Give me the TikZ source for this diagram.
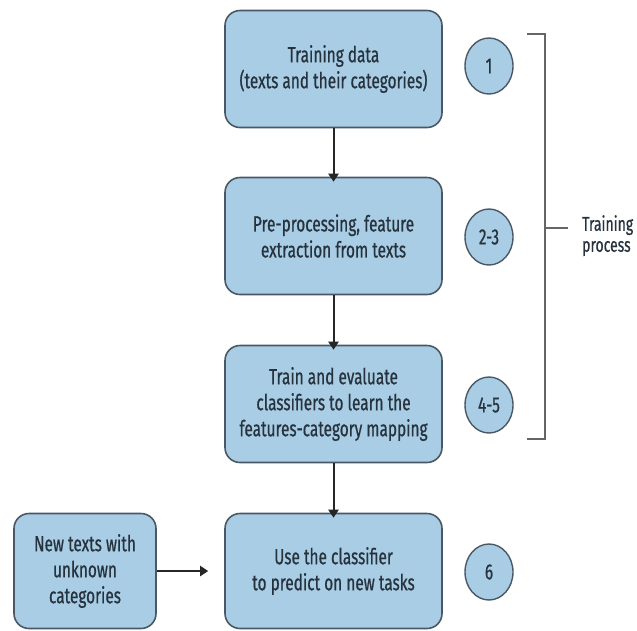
\documentclass[tikz,border=0pt]{standalone}
\usepackage{fontspec}
\setmainfont[FakeStretch=0.7,FakeBold=0.6]{Fira Sans}
\usetikzlibrary{shapes.geometric,arrows.meta}
\definecolor{boxfill}{HTML}{A8CDE4}
\definecolor{boxline}{HTML}{4A5866}
\definecolor{txt}{HTML}{26323E}
\tikzset{
  stepbox/.style={draw=boxline, line width=1.6pt, fill=boxfill, rounded corners=15pt,
    minimum width=217pt, minimum height=117pt, align=center, text=txt,
    font=\fontsize{22}{26}\selectfont, inner sep=0pt},
  sidebox/.style={stepbox, minimum width=142pt, minimum height=115pt},
  num/.style={draw=boxline, line width=1.4pt, fill=boxfill, ellipse,
    minimum width=48pt, minimum height=56pt, inner sep=0pt, text=txt,
    font=\fontsize{22}{24}\selectfont},
  flow/.style={line width=2pt, draw=black!85, -{Triangle[length=8pt,width=10pt]}},
  brk/.style={line width=1.3pt, draw=black!60}
}
\begin{document}
\begin{tikzpicture}[x=1pt,y=-1pt]
\useasboundingbox (0,0) rectangle (637,630);
\node[stepbox] (b1) at (333.5,69) {Training data\\(texts and their categories)};
\node[stepbox] (b2) at (333.5,236) {Pre-processing, feature\\extraction from texts};
\node[stepbox] (b3) at (333.5,404) {Train and evaluate\\classifiers to learn the\\features-category mapping};
\node[stepbox, minimum height=115pt] (b4) at (333.5,571) {Use the classifier\\to predict on new tasks};
\node[sidebox] (nt) at (85,571) {New texts with\\unknown\\categories};
\node[num] (n1) at (489,66) {1};
\node[num] (n2) at (489,237) {2-3};
\node[num] (n3) at (489,405) {4-5};
\node[num] (n4) at (489,572) {6};
\draw[flow] (b1) -- ([yshift=-5pt]b2.north);
\draw[flow] (b2) -- ([yshift=-5pt]b3.north);
\draw[flow] (b3) -- ([yshift=-5pt]b4.north);
\draw[flow] (nt) -- ([xshift=-16pt]b4.west);
\coordinate (bt) at (527,34);
\coordinate (bb) at (527,439);
\coordinate (bm) at (545,228);
\coordinate (be) at (568,228);
\draw[brk] (bt) -- (545,34) -- (545,439) -- (bb);
\draw[brk] (bm) -- (be);
\node[anchor=north west, align=left, text=txt, inner sep=0pt,
  font=\fontsize{20}{21}\selectfont] (tp) at (582,215) {Training\\process};
\end{tikzpicture}
\end{document}
